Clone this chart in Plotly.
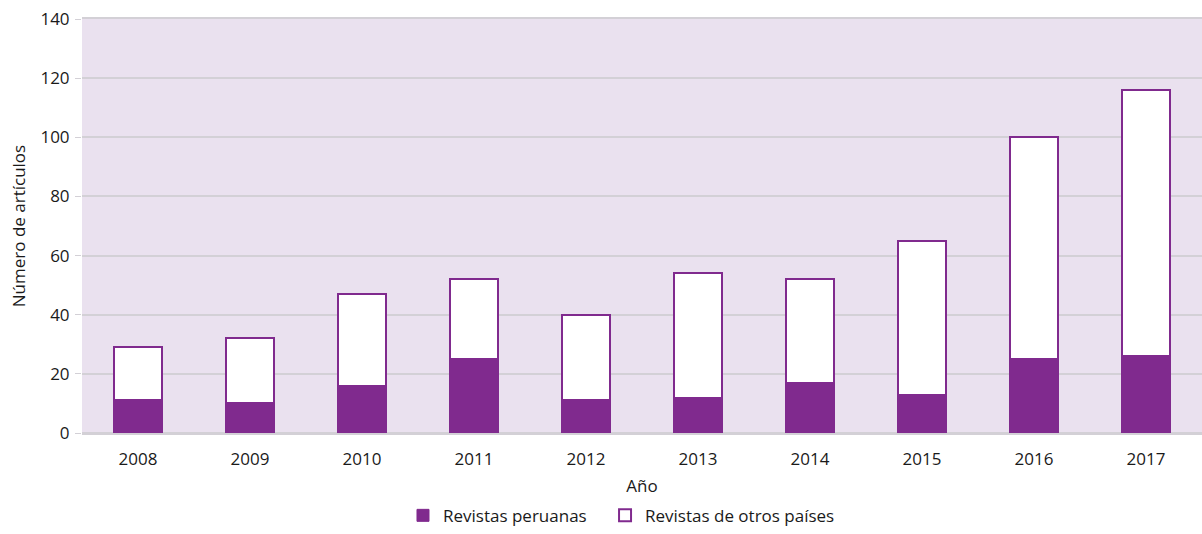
import plotly.graph_objects as go

years = ["2008", "2009", "2010", "2011", "2012", "2013", "2014", "2015", "2016", "2017"]
revistas_peruanas = [11, 10, 16, 25, 11, 12, 17, 13, 25, 26]
revistas_otros = [18, 22, 31, 27, 29, 42, 35, 52, 75, 90]
y_ticks = [0, 20, 40, 60, 80, 100, 120, 140]

purple = "#802A8E"
grid = "#D3D0D6"
font_family = "Open Sans, sans-serif"

fig = go.Figure()
fig.add_trace(go.Bar(
    x=years, y=revistas_peruanas, name="Revistas peruanas",
    marker=dict(color=purple, line=dict(color=purple, width=1)),
    legend="legend",
))
fig.add_trace(go.Bar(
    x=years, y=revistas_otros, name="Revistas de otros países",
    marker=dict(color="white", line=dict(color=purple, width=2)),
    legend="legend2",
))

leg_common = dict(orientation="h", y=-0.2, yanchor="middle", xanchor="left",
                  font=dict(size=17), bgcolor="rgba(0,0,0,0)")

fig.update_layout(
    barmode="stack",
    bargap=0.57,
    width=1202, height=534,
    margin=dict(l=82, r=0, t=19, b=95),
    paper_bgcolor="white",
    plot_bgcolor="#EAE1EF",
    font=dict(family=font_family, size=17, color="#1a1a1a"),
    showlegend=True,
    legend=dict(x=0.2866, **leg_common),
    legend2=dict(x=0.467, **leg_common),
    xaxis=dict(
        title=dict(text="Año", standoff=11, font=dict(size=17)),
        showgrid=False, ticks="", tickfont=dict(size=17),
        showline=True, mirror=True, linecolor=grid, linewidth=2,
        automargin=False, ticklabelstandoff=10,
    ),
    yaxis=dict(
        title=dict(text="Número de artículos", standoff=10, font=dict(size=17)),
        range=[0, 140], tickvals=y_ticks, tickfont=dict(size=17),
        showgrid=True, gridcolor=grid, gridwidth=2,
        zeroline=True, zerolinecolor=grid, zerolinewidth=2,
        ticks="outside", ticklen=6, tickcolor=grid, ticklabelstandoff=2,
        ticklabeloverflow="allow", automargin=False,
    ),
)

fig.write_html("out.html", config={"displayModeBar": False},
               post_script="document.body.style.margin='0';")
